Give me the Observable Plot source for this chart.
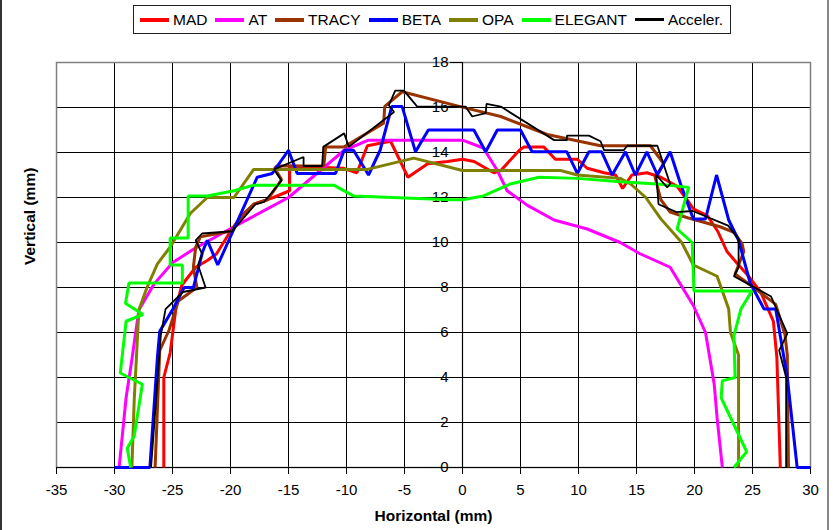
<!DOCTYPE html>
<html><head><meta charset="utf-8">
<script src="https://cdn.jsdelivr.net/npm/d3@7"></script>
<script src="https://cdn.jsdelivr.net/npm/@observablehq/plot@0.6"></script>
<style>
body{margin:0;background:#fff;font-family:"Liberation Sans",Arial,sans-serif;}
#wrap{position:relative;width:833px;height:530px;overflow:hidden;background:#fff;}
#legend{position:absolute;left:133px;top:5px;width:598px;height:29px;border:1px solid #222;box-sizing:border-box;display:flex;align-items:center;padding-left:6px;font-size:15.5px;color:#000;background:#fff;}
.item{display:flex;align-items:center;margin-right:8px;white-space:nowrap;}
.sw{width:29px;height:4px;margin-right:4px;}
#edgeL{position:absolute;left:0;top:0;width:2px;height:530px;background:#333;}
#edgeR{position:absolute;left:827px;top:0;width:2px;height:530px;background:#888;}
</style>
</head><body>
<div id="wrap"><div id="chart"></div><div id="legend"></div><div id="edgeL"></div><div id="edgeR"></div></div>
<script>
const xTicks = [-35,-30,-25,-20,-15,-10,-5,0,5,10,15,20,25,30];
const yTicks = [0,2,4,6,8,10,12,14,16,18];
const seriesNames = ["MAD","AT","TRACY","BETA","OPA","ELEGANT","Acceler."];
const seriesColors = ["#ff0000","#ff00ff","#993300","#0000ff","#808000","#00ff00","#000000"];

const MAD = [[-25.75,0],[-25.75,4.0],[-25.2,5.1],[-25.0,5.9],[-24.7,7.1],[-24.2,8.1],[-23.0,8.9],[-22.0,9.2],[-21.2,9.5],[-20,10.5],[-19.1,11.1],[-18.0,11.7],[-16.3,12.0],[-14.9,12.3],[-14.9,13.4],[-10.3,13.3],[-9.1,13.1],[-8.2,14.3],[-6.2,14.5],[-4.7,12.9],[-3.0,13.5],[-1.3,13.6],[0,13.7],[1.0,13.6],[2.7,13.1],[3.3,13.2],[4.9,14.1],[5.3,14.25],[7.0,14.25],[8.0,13.7],[9.9,13.7],[10.75,13.3],[12.2,13.1],[13.2,13.0],[13.8,12.4],[14.6,13.0],[15.9,13.1],[17.1,12.9],[18.5,12.5],[19.5,11.8],[19.9,11.5],[21.1,11.2],[22.0,10.5],[22.8,9.6],[23.8,9.0],[24.5,8.6],[25.7,7.8],[26.8,6.5],[27.1,4.9],[27.4,0]];
const AT = [[-29.6,0],[-29.0,3.1],[-28.5,4.8],[-27.9,7.0],[-26.6,8.15],[-25.0,9.1],[-23.2,9.7],[-19.7,10.7],[-15.0,12.0],[-10.2,14.1],[-8.1,14.55],[0,14.55],[1.8,14.2],[3.0,13.2],[3.85,12.3],[5.6,11.65],[7.9,11.0],[10.75,10.6],[13.6,10.0],[15.3,9.5],[17.9,8.9],[19.9,7.2],[20.95,6.0],[21.7,3.7],[21.95,2.2],[22.4,0]];
const TRACY = [[-26.5,0],[-26.1,5.2],[-25.3,6.1],[-24.5,7.4],[-23.7,7.7],[-22.9,8.0],[-23.2,8.9],[-23.0,9.8],[-22.6,10.25],[-20,10.5],[-18.85,11.3],[-18.0,11.7],[-16.8,11.9],[-16.0,12.5],[-15.6,12.8],[-16.2,13.3],[-16.0,13.4],[-11.95,13.4],[-11.8,14.25],[-10.2,14.25],[-6.8,15.3],[-6.7,16.05],[-5.2,16.7],[-0.2,16.04],[3.3,15.6],[7.3,14.8],[11.9,14.3],[16.2,14.3],[17.35,13.5],[16.6,12.9],[17.1,11.9],[17.9,11.35],[19.4,11.1],[22.2,10.7],[23.4,10.45],[24.1,9.95],[24.25,9.6],[23.5,8.6],[25.1,8.0],[27.0,7.25],[27.8,5.9],[28.0,5.0],[28.1,0]];
const BETA = [[-30,0],[-26.95,0],[-26.3,4.9],[-26.1,6.05],[-24.9,7.1],[-24.0,8.0],[-23.2,8.0],[-22.4,9.6],[-22.0,10.1],[-21.1,9.0],[-17.7,12.9],[-16.4,13.07],[-15.0,14.1],[-14.25,13.07],[-10.95,13.07],[-10.2,14.1],[-9.4,14.1],[-8.1,13.0],[-7.1,14.1],[-6.1,16.04],[-5.2,16.04],[-4.05,14.03],[-2.95,15.0],[0.98,15.0],[2.0,14.03],[3.0,15.0],[5.0,15.0],[6.0,14.03],[9.0,14.03],[9.9,13.07],[10.9,14.03],[12.0,14.03],[12.9,13.0],[14.05,14.03],[14.9,13.0],[15.9,14.03],[16.8,13.0],[17.9,14.03],[18.8,12.6],[19.9,11.05],[20.95,11.05],[21.9,13.0],[22.95,11.0],[23.8,10.1],[24.8,8.2],[26.0,7.04],[27.0,7.04],[28.0,4.0],[28.85,0],[30,0]];
const OPA = [[-28.5,0],[-28.3,3.0],[-27.9,7.0],[-27.2,8.0],[-26.3,9.05],[-25.2,9.8],[-23.45,11.3],[-22.0,12.0],[-19.7,12.0],[-18.0,13.25],[-8.2,13.25],[-4.2,13.75],[0,13.2],[8.45,13.2],[9.9,13.0],[13.6,12.85],[14.5,12.6],[15.8,12.0],[17.1,11.05],[18.9,10.0],[19.9,9.0],[21.95,8.5],[22.95,7.04],[23.1,6.0],[23.8,5.0],[23.8,0]];
const ELEGANT = [[-28.6,0],[-28.9,0.86],[-28.3,1.4],[-27.6,3.7],[-29.5,4.2],[-29.0,6.5],[-27.55,6.8],[-29.05,7.3],[-28.75,8.2],[-24.15,8.2],[-24.15,9.0],[-25.2,9.0],[-25.2,10.2],[-23.65,10.2],[-23.65,12.07],[-22.0,12.07],[-19.7,12.3],[-18.0,12.55],[-11.1,12.55],[-9.4,12.07],[-1.0,11.9],[0,11.9],[1.8,12.07],[4.1,12.6],[6.6,12.9],[9.9,12.85],[13.6,12.7],[16.8,12.6],[19.5,12.45],[18.5,10.6],[19.8,10.0],[19.95,7.85],[24.95,7.85],[24.0,7.04],[23.4,5.85],[23.5,4.0],[22.4,3.85],[22.3,3.1],[24.5,0.7],[23.4,0]];
const ACCEL = [[-26.85,0],[-26.0,5.9],[-25.6,7.04],[-24.1,7.8],[-22.15,8.0],[-22.8,9.0],[-22.45,9.5],[-23.0,10.1],[-22.45,10.4],[-19.85,10.5],[-18.85,11.1],[-17.85,11.7],[-17.1,11.8],[-15.6,12.75],[-16.25,13.25],[-13.7,13.8],[-13.7,13.4],[-12.1,13.4],[-12.0,14.25],[-10.2,14.85],[-9.8,14.25],[-5.9,15.8],[-6.35,16.1],[-5.8,16.75],[-5.05,16.75],[-3.9,16.04],[0.26,16.04],[0.84,15.6],[2.0,15.75],[2.07,16.16],[3.3,16.04],[7.9,14.55],[9.0,14.55],[9.0,14.75],[10.9,14.75],[11.9,14.5],[12.2,14.1],[13.9,14.1],[14.2,14.3],[16.8,14.3],[17.9,12.6],[17.65,12.45],[16.7,13.0],[16.9,11.7],[18.45,11.35],[19.85,11.4],[22.9,10.75],[23.8,10.15],[23.8,8.9],[23.4,8.5],[26.6,7.6],[28.0,5.95],[27.3,5.2],[27.9,4.0],[27.9,0]];

const seriesData = [MAD, AT, TRACY, BETA, OPA, ELEGANT, ACCEL];
const rows = seriesNames.flatMap((s, i) => seriesData[i].map(([x, y]) => ({series: s, x, y})));

const mL = 56, mR = 23, mT = 62, mB = 63;
const plot = Plot.plot({
  width: 833, height: 530,
  marginLeft: mL, marginRight: mR, marginTop: mT, marginBottom: mB,
  x: {domain: [-35, 30]},
  y: {domain: [0, 18]},
  color: {domain: seriesNames, range: seriesColors},
  style: {fontFamily: "'Liberation Sans', Arial, sans-serif", fontSize: "15px", color: "#000", background: "#fff", overflow: "visible"},
  marks: [
    Plot.ruleX(xTicks, {stroke: "#000", strokeWidth: 1}),
    Plot.ruleY(yTicks, {stroke: "#000", strokeWidth: 1}),
    Plot.frame({stroke: "#808080", strokeWidth: 1.5}),
    Plot.ruleY([0], {stroke: "#000", strokeWidth: 1.2}),
    Plot.ruleX([0], {stroke: "#000", strokeWidth: 1.2}),
    Plot.axisX({ticks: xTicks, tickSize: 7, tickPadding: 10, label: null, tickFormat: d => String(d), stroke: "#000"}),
    Plot.axisY({ticks: yTicks, anchor: "left", tickSize: 12, tickPadding: 2, label: null, tickFormat: d => String(d), stroke: "#000"}),
    ...seriesNames.map(s => Plot.line(rows.filter(r => r.series === s), {
      x: "x", y: "y", stroke: "series",
      strokeWidth: s === "Acceler." ? 1.8 : 3,
      strokeLinejoin: "miter", strokeLinecap: "butt"
    })),
    Plot.text(["Horizontal (mm)"], {text: d => d, frameAnchor: "bottom", dy: 53, fontWeight: "bold", fontSize: 15.5}),
    Plot.text(["Vertical (mm)"], {text: d => d, frameAnchor: "left", dx: -26, rotate: -90, fontWeight: "bold", fontSize: 15.5})
  ]
});

// place the vertical axis at x = 0, as in the reference
const shift = plot.scale("x").apply(0) - mL;
plot.querySelectorAll('g[aria-label="y-axis tick"], g[aria-label="y-axis tick label"]').forEach(g => {
  const t = g.getAttribute("transform") || "";
  g.setAttribute("transform", `translate(${shift},0) ${t}`);
});
document.getElementById("chart").appendChild(plot);

const legend = d3.select("#legend");
seriesNames.forEach((s, i) => {
  const it = legend.append("div").attr("class", "item");
  it.append("div").attr("class", "sw").style("background", seriesColors[i]).style("height", s === "Acceler." ? "3px" : "4px");
  it.append("span").text(s);
});
</script>
</body></html>
